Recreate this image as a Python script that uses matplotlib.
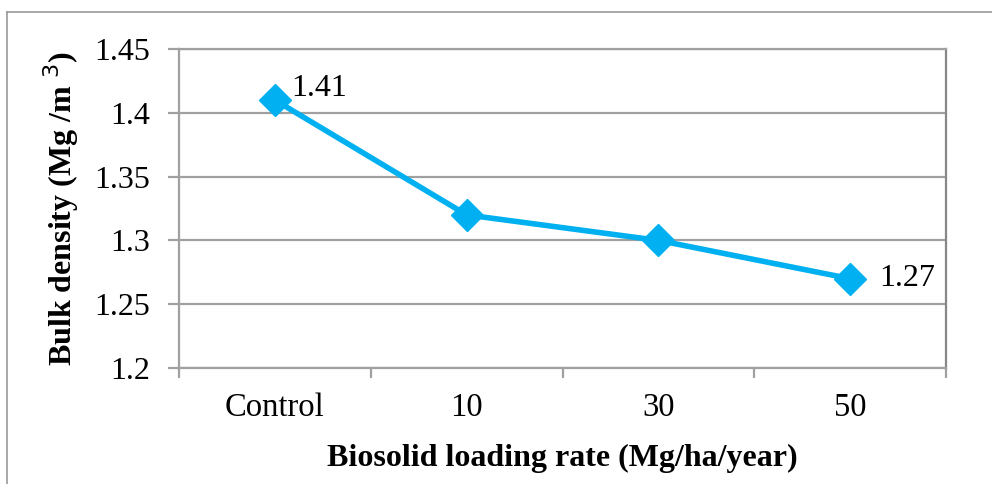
import matplotlib
matplotlib.use("Agg")
import matplotlib.pyplot as plt
from matplotlib.lines import Line2D

categories = ["Control", "10", "30", "50"]
bulk_density = [1.41, 1.32, 1.30, 1.27]
labelled = {0: "1.41", 3: "1.27"}
yticks = [1.2, 1.25, 1.3, 1.35, 1.4, 1.45]
ytick_labels = ["1.2", "1.25", "1.3", "1.35", "1.4", "1.45"]

plt.rcParams["font.family"] = ["Liberation Serif", "DejaVu Serif"]

W, H = 992, 484
fig = plt.figure(figsize=(W / 100, H / 100), dpi=100)
ax = fig.add_axes([179 / W, 1 - 368 / H, (946 - 179) / W, (368 - 49) / H])

x = list(range(len(categories)))
ax.plot(x, bulk_density, color="#00B0F0", lw=4, marker="D", ms=16,
        solid_joinstyle="round", zorder=3, clip_on=False)

ax.set_xlim(-0.5, len(categories) - 0.5)
ax.set_ylim(1.2, 1.45)
ax.set_yticks(yticks)
ax.set_yticklabels(ytick_labels)
ax.set_xticks(x)
ax.set_xticklabels(categories)
ax.set_xticks([i - 0.5 for i in range(len(categories) + 1)], minor=True)

grid_c = "#A0A0A0"
ax.yaxis.grid(True, color=grid_c, lw=1.6)
ax.set_axisbelow(True)
for side in ["left", "right", "bottom", "top"]:
    ax.spines[side].set_color(grid_c)
    ax.spines[side].set_linewidth(1.6)
ax.spines["right"].set_color("#888888")

ax.tick_params(axis="y", length=8, width=1.6, color=grid_c, labelsize=23, pad=13)
ax.tick_params(axis="x", which="major", length=0, labelsize=23.5, pad=18)
ax.tick_params(axis="x", which="minor", length=7, width=1.6, color=grid_c)

ax.set_xlabel("Biosolid loading rate (Mg/ha/year)", fontsize=23, fontweight="bold", labelpad=15)
ax.set_ylabel("Bulk density (Mg /m $^{3}$)", fontsize=23, fontweight="bold", labelpad=9)

offsets = {0: (12, 8.5), 3: (21, 0)}
for i, txt in labelled.items():
    ax.annotate(txt, (x[i], bulk_density[i]), xytext=offsets[i], textcoords="offset points",
                ha="left", va="center", fontsize=23)

# outer frame of the figure (top and left edges)
frame_c = "#999999"
fig.add_artist(Line2D([7 / W, 1], [1 - 12 / H, 1 - 12 / H], color=frame_c, lw=1.2))
fig.add_artist(Line2D([7 / W, 7 / W], [0, 1 - 12 / H], color=frame_c, lw=1.2))

fig.savefig("out.png", dpi=100, facecolor="white")
